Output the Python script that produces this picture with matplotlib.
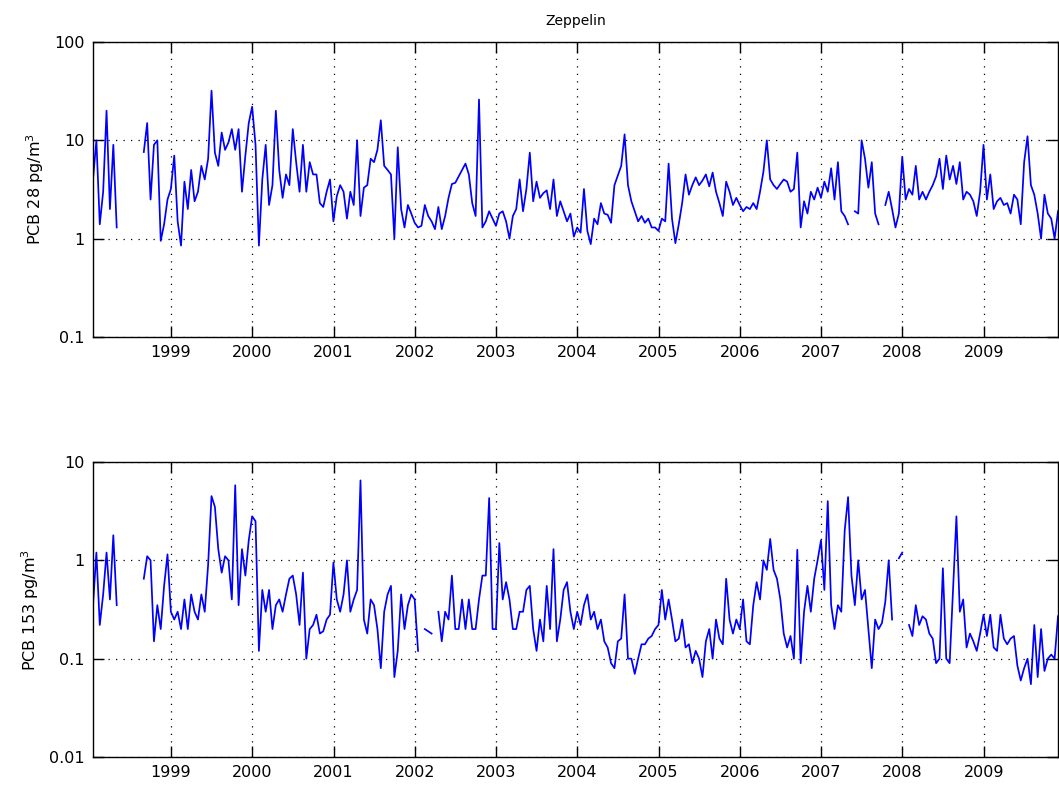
import numpy as np
import matplotlib
matplotlib.use("Agg")
import matplotlib.pyplot as plt
from matplotlib.ticker import NullLocator, FixedLocator, FixedFormatter

nan = np.nan

# sampling: half-monthly values starting mid-January 1998
START = 1998.04
STEP = 1.0 / 24.0

years = list(range(1999, 2010))

pcb28 = [
    4, 10, 1.4, 3, 20, 2, 9, 1.3, nan, nan, nan, nan, nan, nan, nan,
    7.6, 15, 2.5, 9, 10, 0.95, 1.4, 2.5, 3.2, 7, 1.5, 0.85, 3.8, 2.0, 5,
    2.4, 3.0, 5.5, 4, 6.5, 32, 7.5, 5.5, 12, 8, 9.5, 13, 8, 13, 3,
    7, 15, 22, 9, 0.85, 4, 9, 2.2, 3.5, 20, 5, 2.6, 4.5, 3.5,
    13, 6, 3, 9, 3, 6, 4.5, 4.5, 2.3, 2.1, 3.0, 4, 1.5, 2.7, 3.5,
    3.0, 1.6, 3, 2.2, 10, 1.7, 3.3, 3.5, 6.5, 6, 8, 16, 5.5, 5, 4.5,
    1.0, 8.5, 2.0, 1.3, 2.2, 1.8, 1.45, 1.3, 1.35, 2.2, 1.7, 1.5, 1.25, 2.1, 1.25,
    1.7, 2.6, 3.6, 3.7, 4.3, 5.0, 5.8, 4.5, 2.3, 1.7, 26, 1.3,
    1.5, 1.9, 1.6, 1.35, 1.8, 1.9, 1.5, 1.0, 1.7, 2.0, 4.0, 1.9, 3.2, 7.5, 2.4,
    3.8, 2.6, 2.9, 3.1, 2.0, 4.0, 1.7, 2.4, 1.9, 1.5, 1.8, 1.05, 1.3, 1.15, 3.2,
    1.2, 0.88, 1.6, 1.4, 2.3, 1.8, 1.75, 1.45, 3.5, 4.4, 5.5, 11.5, 3.5, 2.4, 1.9,
    1.5, 1.7, 1.45, 1.6, 1.3, 1.3, 1.2, 1.6, 1.5, 5.8, 1.6, 0.9, 1.4,
    2.3, 4.5, 2.8, 3.5, 4.2, 3.5, 3.9, 4.5, 3.4, 4.7, 3.0, 2.3, 1.7, 3.8, 3.0,
    2.2, 2.6, 2.2, 1.9, 2.1, 2.0, 2.3, 2.0, 3.0, 4.8, 10, 4.0, 3.5, 3.2, 3.6,
    4.0, 3.8, 3.0, 3.2, 7.5, 1.3, 2.4, 1.8, 3.0, 2.5, 3.3, 2.6, 3.8, 3.0, 5.2,
    2.5, 6, 1.9, 1.7, 1.4, nan, 1.9, 1.8, 10,
    6.5, 3.3, 6.0, 1.8, 1.4, nan, 2.2, 3.0, 2.0, 1.3, 1.8, 6.8, 2.5, 3.2, 2.8,
    5.5, 2.5, 3.0, 2.5, 3.0, 3.5, 4.3, 6.5, 3.2, 7, 4.0, 5.5, 3.6, 6, 2.5,
    3.0, 2.8, 2.4, 1.7, 3.0, 9, 2.5, 4.5, 2.0, 2.4, 2.6, 2.2, 2.3, 1.8, 2.8,
    2.5, 1.4, 6, 11, 3.5, 2.8, 1.8, 1.0, 2.8, 1.8, 1.6, 1.0, 1.9,
]

pcb153 = [
    0.35, 1.2, 0.22, 0.45, 1.2, 0.4, 1.8, 0.35, nan, nan, nan, nan, nan, nan, nan,
    0.65, 1.1, 1.0, 0.15, 0.35, 0.2, 0.55, 1.15, 0.3, 0.25, 0.3, 0.2, 0.4, 0.2, 0.45,
    0.3, 0.25, 0.45, 0.3, 0.9, 4.5, 3.5, 1.3, 0.75, 1.1, 1.0, 0.4, 5.8, 0.35, 1.3,
    0.7, 1.6, 2.8, 2.5, 0.12, 0.5, 0.3, 0.5, 0.2, 0.35, 0.4, 0.3, 0.45, 0.65,
    0.7, 0.45, 0.22, 0.75, 0.1, 0.2, 0.22, 0.28, 0.18, 0.19, 0.25, 0.28, 0.95, 0.4, 0.3,
    0.45, 1.0, 0.3, 0.4, 0.5, 6.5, 0.25, 0.18, 0.4, 0.35, 0.2, 0.08, 0.3, 0.45, 0.55,
    0.065, 0.12, 0.45, 0.2, 0.35, 0.45, 0.4, 0.12, nan, 0.2, 0.19, 0.18, nan, 0.3, 0.15,
    0.3, 0.25, 0.7, 0.2, 0.2, 0.4, 0.2, 0.4, 0.2, 0.2, 0.4, 0.7,
    0.7, 4.3, 0.2, 0.2, 1.5, 0.4, 0.6, 0.4, 0.2, 0.2, 0.3, 0.3, 0.5, 0.55, 0.2,
    0.12, 0.25, 0.15, 0.55, 0.2, 1.3, 0.15, 0.25, 0.5, 0.6, 0.3, 0.2, 0.3, 0.22, 0.35,
    0.45, 0.25, 0.3, 0.2, 0.25, 0.15, 0.13, 0.09, 0.08, 0.15, 0.16, 0.45, 0.1, 0.1, 0.07,
    0.1, 0.14, 0.14, 0.16, 0.17, 0.2, 0.22, 0.5, 0.25, 0.4,
    0.25, 0.15, 0.16, 0.25, 0.13, 0.14, 0.09, 0.12, 0.1, 0.065, 0.15, 0.2, 0.1, 0.25, 0.16,
    0.14, 0.65, 0.25, 0.18, 0.25, 0.2, 0.4, 0.15, 0.14, 0.35, 0.6, 0.4, 1.0, 0.8, 1.65,
    0.8, 0.65, 0.4, 0.18, 0.13, 0.17, 0.1, 1.28, 0.09, 0.3, 0.55, 0.3, 0.65, 1.0, 1.6,
    0.5, 4.0, 0.35, 0.2, 0.35, 0.3, 2.0, 4.4, 0.7, 0.35, 1.0, 0.4,
    0.5, 0.2, 0.08, 0.25, 0.2, 0.23, 0.38, 1.0, 0.25, nan, 1.05, 1.2, nan, 0.22,
    0.17, 0.35, 0.22, 0.27, 0.25, 0.18, 0.16, 0.09, 0.1, 0.83, 0.1, 0.09, 0.5, 2.8, 0.3,
    0.4, 0.13, 0.18, 0.15, 0.12, 0.18, 0.28, 0.17, 0.28, 0.13, 0.12, 0.28, 0.16, 0.14, 0.16,
    0.17, 0.085, 0.06, 0.08, 0.1, 0.055, 0.22, 0.065, 0.2, 0.075, 0.1, 0.11, 0.1, 0.27,
]

t = START + STEP * np.arange(len(pcb28))

W, H = 1059, 791
fig = plt.figure(figsize=(W / 100, H / 100), dpi=100)
plt.rcParams["font.family"] = "DejaVu Sans"

left = 93 / W
width = (1058 - 93) / W
ax1 = fig.add_axes([left, 1 - 337 / H, width, 295 / H])
ax2 = fig.add_axes([left, 1 - 757 / H, width, 295 / H])


def style(ax, ylim, yticks, ylabels, label):
    ax.set_yscale("log")
    ax.set_ylim(*ylim)
    ax.set_xlim(t[0], t[-1])
    ax.yaxis.set_major_locator(FixedLocator(yticks))
    ax.yaxis.set_major_formatter(FixedFormatter(ylabels))
    ax.yaxis.set_minor_locator(NullLocator())
    ax.set_xticks(years)
    ax.set_xticklabels([str(y) for y in years])
    ax.xaxis.set_minor_locator(NullLocator())
    ax.grid(True, which="major", color="black", linestyle=(0, (1, 5)), linewidth=0.9)
    ax.tick_params(direction="in", length=8, width=1, top=True, right=True,
                   labelsize=11.5, pad=6)
    for s in ax.spines.values():
        s.set_linewidth(1.0)
    ax.set_ylabel(label, fontsize=11.5, labelpad=6)


ax1.plot(t, pcb28, color="blue", linewidth=1.25)
style(ax1, (0.1, 100), [0.1, 1, 10, 100], ["0.1", "1", "10", "100"],
      "PCB 28 pg/m$^3$")
ax1.set_title("Zeppelin", fontsize=10, pad=12)

ax2.plot(t, pcb153, color="blue", linewidth=1.25)
style(ax2, (0.01, 10), [0.01, 0.1, 1, 10], ["0.01", "0.1", "1", "10"],
      "PCB 153 pg/m$^3$")

fig.savefig("out.png", dpi=100)
